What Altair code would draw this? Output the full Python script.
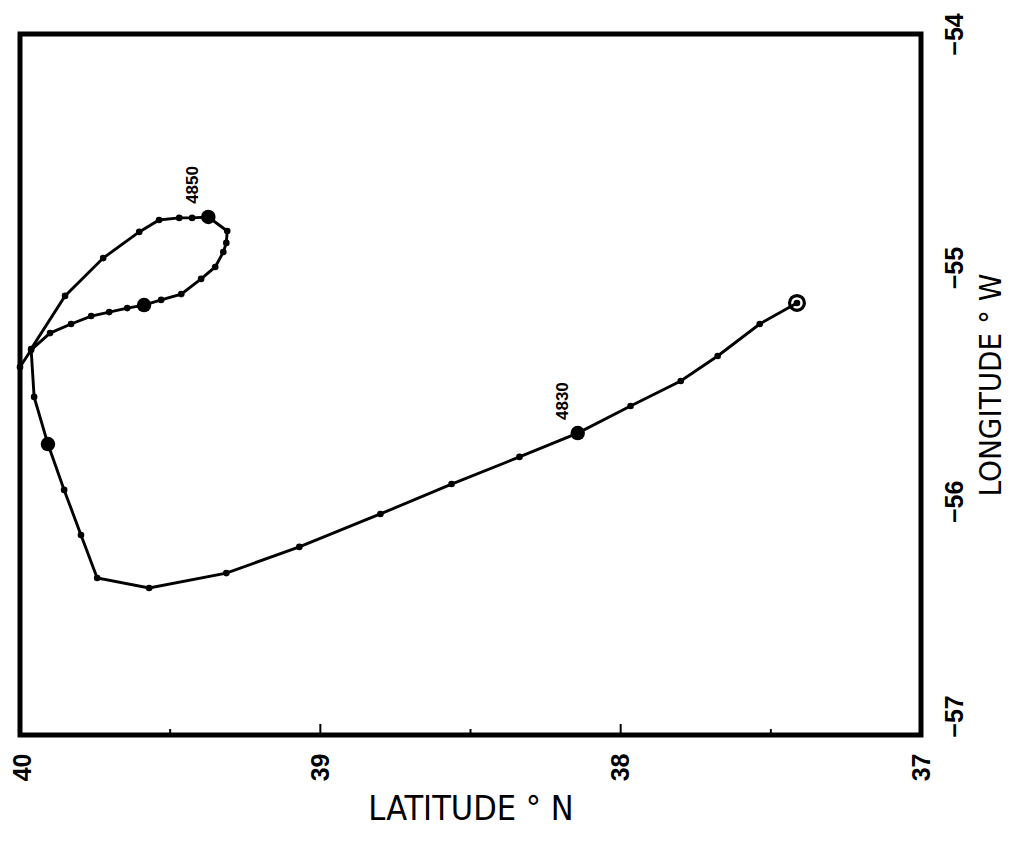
import altair as alt
import pandas as pd

# Float track: latitude (deg N), longitude (deg W, negative)
lat = [37.413, 37.537, 37.677, 37.800, 37.967, 38.143, 38.337, 38.563, 38.800, 39.070,
       39.313, 39.570, 39.743, 39.797, 39.853, 39.907, 39.953, 39.963, 39.850, 39.723,
       39.603, 39.537, 39.470, 39.427, 39.373, 39.310, 39.313, 39.323, 39.350, 39.397,
       39.463, 39.530, 39.587, 39.643, 39.703, 39.763, 39.830, 39.900, 39.963, 40.000]
lon = [-55.151, -55.241, -55.378, -55.485, -55.592, -55.708, -55.810, -55.926, -56.054, -56.195,
       -56.307, -56.371, -56.328, -56.144, -55.951, -55.755, -55.553, -55.348, -55.121, -54.959,
       -54.847, -54.796, -54.787, -54.787, -54.783, -54.843, -54.894, -54.933, -54.997, -55.048,
       -55.113, -55.138, -55.160, -55.173, -55.190, -55.207, -55.241, -55.280, -55.352, -55.425]
big_idx = [5, 15, 24, 32]
label_idx = [5, 24]
label_txt = ["4830", "4850"]
start_idx = 0

lat_ticks = [40, 39, 38, 37]
lon_ticks = [-54, -55, -56, -57]
lat_major = [39, 38]
lat_minor = [39.5, 38.5, 37.5]

track = pd.DataFrame({"lat": lat, "lon": lon, "order": list(range(len(lat)))})
big = track.iloc[big_idx]
start = track.iloc[[start_idx]]
labels = track.iloc[label_idx].assign(txt=label_txt)

W, H = 901, 701
LABEL_FONT = "Liberation Sans, Arial, DejaVu Sans"
TITLE_FONT = "Liberation Sans Narrow, DejaVu Sans Condensed, Liberation Sans"

x_enc = alt.X("lat:Q",
              scale=alt.Scale(domain=[37, 40], reverse=True, nice=False, zero=False),
              axis=alt.Axis(values=lat_ticks, format="d", title="LATITUDE ° N",
                            orient="bottom", labelAngle=270, labelAlign="right",
                            labelBaseline="middle", labelPadding=18, labelFlush=False,
                            labelOverlap=False, ticks=False, domain=False, grid=False,
                            labelOffset={"condition": {"test": "datum.value === 40", "value": 2},
                                         "value": 0},
                            labelFont=LABEL_FONT, labelFontWeight="bold", labelFontSize=25,
                            labelColor="black", titleFont=TITLE_FONT, titleFontSize=34,
                            titleFontWeight="normal", titleColor="black", titlePadding=12))
y_enc = alt.Y("lon:Q",
              scale=alt.Scale(domain=[-57, -54], nice=False, zero=False),
              axis=alt.Axis(values=lon_ticks, format="d", title="LONGITUDE ° W",
                            orient="right", labelAngle=270, labelAlign="center",
                            labelBaseline="top", labelPadding=21, labelFlush=False,
                            labelOverlap=False, ticks=False, domain=False, grid=False,
                            labelOffset={"condition": {"test": "datum.value === -57", "value": -19},
                                         "value": 0},
                            labelFont=LABEL_FONT, labelFontWeight="bold", labelFontSize=25,
                            labelColor="black", titleFont=TITLE_FONT, titleFontSize=31,
                            titleFontWeight="normal", titleColor="black", titleAngle=270,
                            titleBaseline="top", titlePadding=9))

line = alt.Chart(track).mark_line(color="black", strokeWidth=2.9).encode(
    x=x_enc, y=y_enc, order="order:Q")
dots = alt.Chart(track).mark_circle(color="black", size=44, opacity=1).encode(x=x_enc, y=y_enc)
bigdots = alt.Chart(big).mark_circle(color="black", size=210, opacity=1).encode(x=x_enc, y=y_enc)
ring = alt.Chart(start).mark_point(shape="circle", filled=False, color="black",
                                   size=220, strokeWidth=3.2, opacity=1).encode(x=x_enc, y=y_enc)
txt = alt.Chart(labels).mark_text(angle=270, align="center", baseline="middle",
                                  dx=32, dy=-15, font=LABEL_FONT, fontWeight="bold",
                                  fontSize=17, color="black").encode(x=x_enc, y=y_enc, text="txt:N")

tick_major = alt.Chart(pd.DataFrame({"lat": lat_major})).mark_rule(
    color="black", strokeWidth=2).encode(x=x_enc, y=alt.value(H), y2=alt.value(H - 11))
tick_minor = alt.Chart(pd.DataFrame({"lat": lat_minor})).mark_rule(
    color="black", strokeWidth=2).encode(x=x_enc, y=alt.value(H), y2=alt.value(H - 6))

chart = alt.layer(tick_major, tick_minor, line, dots, bigdots, ring, txt).properties(
    width=W, height=H,
    background="white",
    autosize=alt.AutoSizeParams(type="none"),
    padding={"left": 12, "top": 26, "right": 89, "bottom": 111},
).configure_view(stroke="black", strokeWidth=5)

chart.save("out.html", embed_options={"renderer": "svg", "actions": False})
